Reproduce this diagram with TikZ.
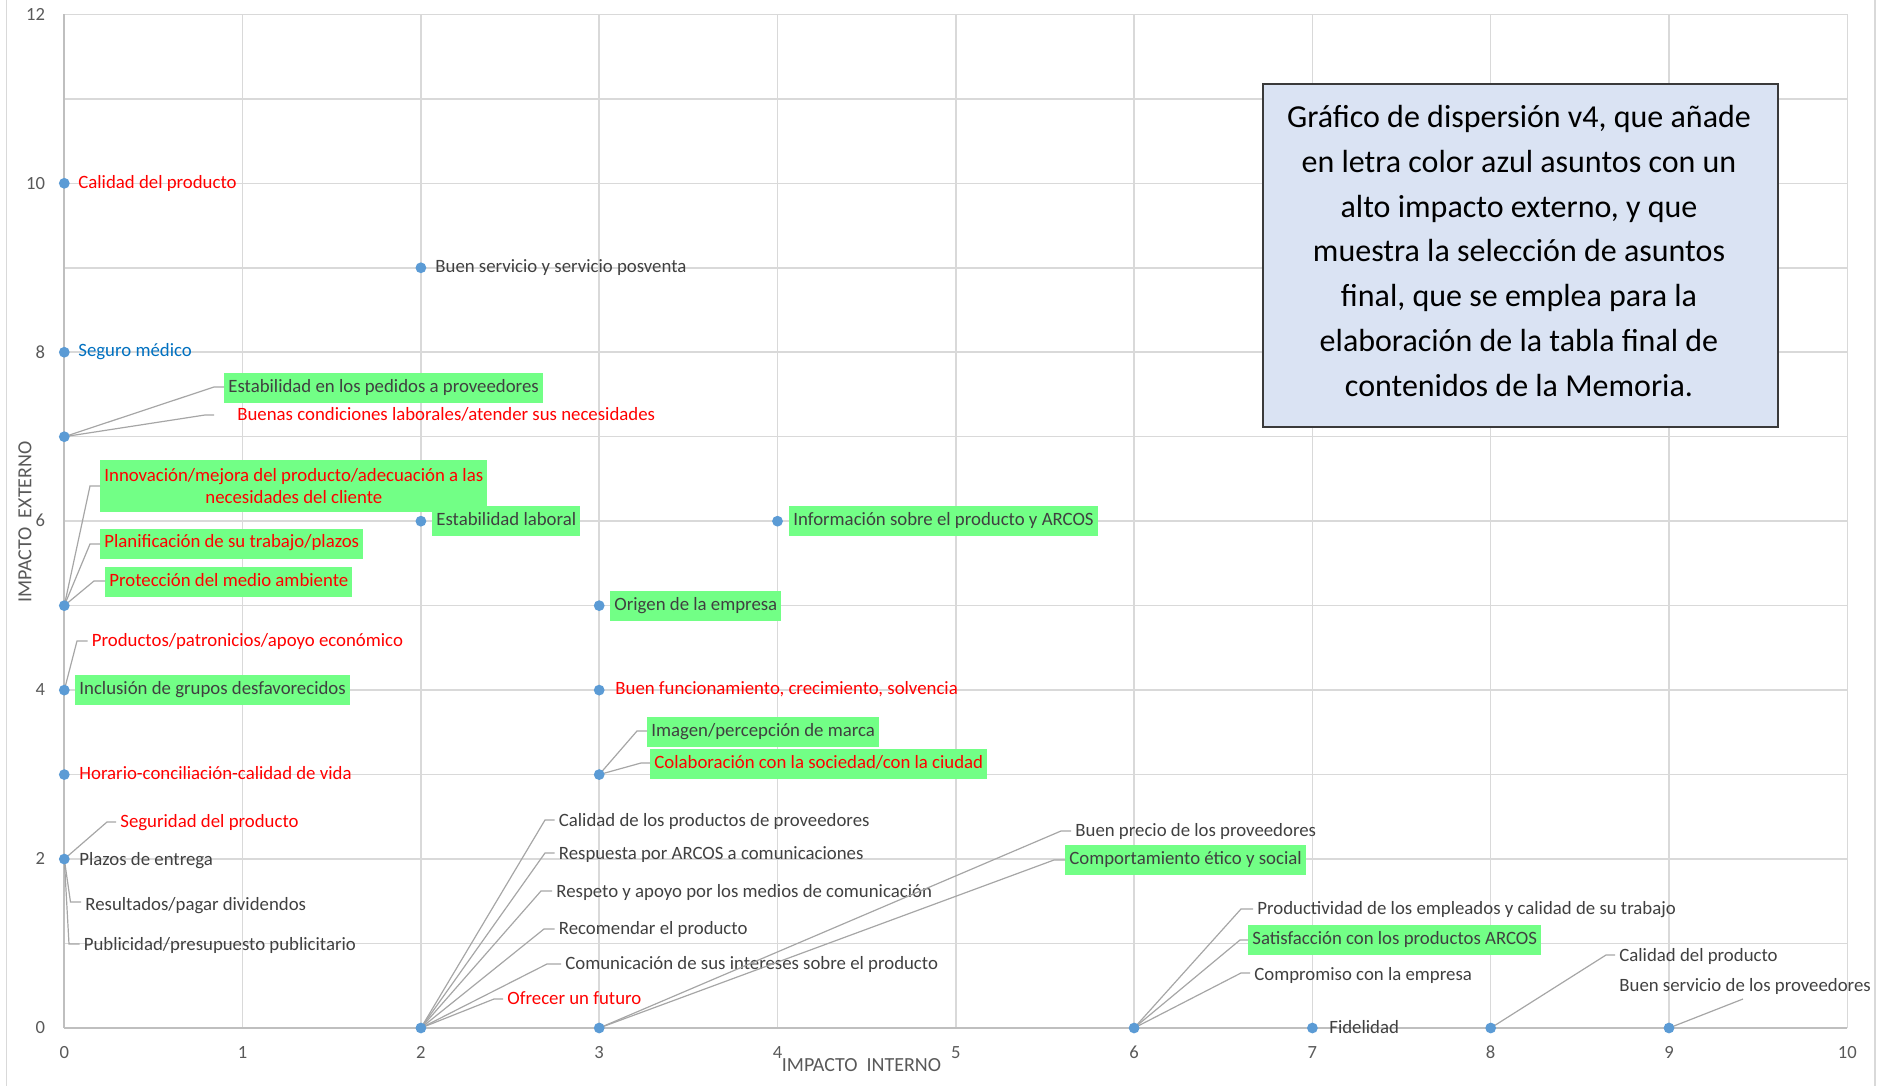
\documentclass[tikz,border=0pt]{standalone}
\usepackage{fontspec}
\setmainfont{Carlito}
\definecolor{gridc}{HTML}{D9D9D9}
\definecolor{axisc}{HTML}{BFBFBF}
\definecolor{leaderc}{HTML}{A6A6A6}
\definecolor{dotc}{HTML}{5B9BD5}
\definecolor{greenc}{RGB}{114,255,134}
\definecolor{darkc}{HTML}{404040}
\definecolor{tickc}{HTML}{595959}
\definecolor{bluec}{HTML}{0070C0}
\definecolor{redc}{HTML}{FF0000}
\definecolor{notec}{HTML}{DAE3F3}
\definecolor{notedraw}{HTML}{3A3A3A}
\begin{document}
\begin{tikzpicture}[x=0.5pt,y=-0.5pt,
  gridl/.style={draw=gridc,line width=0.75pt},
  axisl/.style={draw=axisc,line width=1pt},
  leader/.style={draw=leaderc,line width=0.6pt},
  dot/.style={circle,fill=dotc,inner sep=0pt,minimum size=5.4pt},
  lbl/.style={anchor=west,font=\fontsize{9.4}{11}\selectfont,text=darkc,inner xsep=2pt,inner ysep=0pt,text height=6.4pt,text depth=2pt},
  gbox/.style={lbl,fill=greenc,minimum height=15pt},
  rtext/.style={text=redc},
  tick/.style={font=\fontsize{9.3}{10}\selectfont,text=tickc,inner sep=0pt,text height=5.8pt,text depth=0pt},
  axtitle/.style={font=\fontsize{10}{12}\selectfont,text=tickc,inner sep=0pt}]
\useasboundingbox (0,0) rectangle (1881,1086);
% chart frame sides
\draw[gridl] (6.7,0) -- (6.7,1086);
\draw[gridl] (1875,0) -- (1875,1086);
\begin{scope}[shift={(64.3,1028)},x=89.15pt,y=42.235pt]
  \foreach \i in {1,...,10} \draw[gridl] (\i,0) -- (\i,12);
  \foreach \j in {1,...,12} \draw[gridl] (0,\j) -- (10,\j);
  \draw[axisl] (0,0) -- (0,12);
  \draw[axisl] (0,0) -- (10,0);
  \foreach \j in {0,2,...,12} \node[tick,anchor=east,xshift=-9.4pt] (ty\j) at (0,\j) {\j};
  \foreach \i in {0,...,10} \node[tick,anchor=center,yshift=-12.35pt] (tx\i) at (\i,0) {\i};
  \foreach \a/\b in {0/10,2/9,0/8,0/7,0/5,2/6,4/6,3/5,0/4,3/4,3/3,0/3,0/2,2/0,3/0,6/0,7/0,8/0,9/0}
    \coordinate (q\a\b) at (\a,\b);
\end{scope}
% axis titles
\node[axtitle,rotate=90] (ytitle) at (25,522) {IMPACTO\ \ EXTERNO};
\node[axtitle] (xtitle) at (861.5,1065) {IMPACTO\ \ INTERNO};
% note box
\node[draw=notedraw,line width=0.8pt,fill=notec,minimum width=257.5pt,minimum height=171.5pt,inner sep=0pt] (note) at (1520.5,255.5) {};
\node[align=center,font=\fontsize{16}{22.4}\selectfont,text=black,inner sep=0pt] (notetext) at (1519,251) {Gráfico de dispersión v4, que añade\\en letra color azul asuntos con un\\alto impacto externo, y que\\muestra la selección de asuntos\\final, que se emplea para la\\elaboración de la tabla final de\\contenidos de la Memoria.};
% labels
\node[lbl,rtext] (l1) at (74,184) {Calidad del producto};
\node[lbl] (l2) at (431,268) {Buen servicio y servicio posventa};
\node[lbl,text=bluec] (l3) at (74,352) {Seguro médico};
\node[gbox] (l4) at (224,388) {Estabilidad en los pedidos a proveedores};
\node[lbl,rtext,inner xsep=11.5pt] (l5) at (214,416) {Buenas condiciones laborales/atender sus necesidades};
\node[lbl,rtext,fill=greenc,anchor=north west,align=center,minimum width=193pt,minimum height=26pt,text height=,text depth=,font=\fontsize{9.4}{11}\selectfont] (l6) at (100,460) {Innovación/mejora del producto/adecuación a las\\necesidades del cliente};
\node[gbox,rtext] (l7) at (100,543.5) {Planificación de su trabajo/plazos};
\node[gbox,rtext] (l8) at (105,582) {Protección del medio ambiente};
\node[gbox] (l9) at (432,521) {Estabilidad laboral};
\node[gbox] (l10) at (789,521) {Información sobre el producto y ARCOS};
\node[gbox] (l11) at (610,606) {Origen de la empresa};
\node[lbl,rtext] (l12) at (87.5,642) {Productos/patronicios/apoyo económico};
\node[gbox] (l13) at (75,690) {Inclusión de grupos desfavorecidos};
\node[lbl,rtext] (l14) at (611,690) {Buen funcionamiento, crecimiento, solvencia};
\node[gbox] (l15) at (647,732) {Imagen/percepción de marca};
\node[gbox,rtext] (l16) at (650,764) {Colaboración con la sociedad/con la ciudad};
\node[lbl,rtext] (l17) at (75,775) {Horario-conciliación-calidad de vida};
\node[lbl,rtext] (l18) at (116,823) {Seguridad del producto};
\node[lbl] (l19) at (75,861) {Plazos de entrega};
\node[lbl] (l20) at (81,906) {Resultados/pagar dividendos};
\node[lbl] (l21) at (79.5,946) {Publicidad/presupuesto publicitario};
\node[lbl] (l22) at (554.5,822) {Calidad de los productos de proveedores};
\node[lbl] (l23) at (554.5,855) {Respuesta por ARCOS a comunicaciones};
\node[lbl] (l24) at (552,893) {Respeto y apoyo por los medios de comunicación};
\node[lbl] (l25) at (554.5,930) {Recomendar el producto};
\node[lbl] (l26) at (561,965) {Comunicación de sus intereses sobre el producto};
\node[lbl,rtext] (l27) at (503,1000) {Ofrecer un futuro};
\node[lbl] (l28) at (1071,832) {Buen precio de los proveedores};
\node[gbox] (l29) at (1065,860) {Comportamiento ético y social};
\node[lbl] (l30) at (1253,910) {Productividad de los empleados y calidad de su trabajo};
\node[gbox] (l31) at (1248,940) {Satisfacción con los productos ARCOS};
\node[lbl] (l32) at (1250,976) {Compromiso con la empresa};
\node[lbl] (l33) at (1325,1029) {Fidelidad};
\node[lbl] (l34) at (1615,957) {Calidad del producto};
\node[lbl] (l35) at (1615,987) {Buen servicio de los proveedores};
% leader bends
\coordinate (b4) at (214,387);
\coordinate (b5) at (205,415);
\coordinate (b6) at (90,486);
\coordinate (b7) at (90,544);
\coordinate (b8) at (94,581);
\coordinate (b12) at (77,641);
\coordinate (b15) at (637,731);
\coordinate (b16) at (641,763);
\coordinate (b18) at (107,822);
\coordinate (b20) at (70.5,902);
\coordinate (b21) at (69,944);
\coordinate (b22) at (545,820);
\coordinate (b23) at (545,853);
\coordinate (b24) at (541,891);
\coordinate (b25) at (544,929);
\coordinate (b26) at (547,964);
\coordinate (b27) at (494,999);
\coordinate (b28) at (1061,831);
\coordinate (b29) at (1054,860);
\coordinate (b30) at (1241,909);
\coordinate (b31) at (1240,940);
\coordinate (b32) at (1241,973);
\coordinate (b34) at (1606,955);
\coordinate (e35) at (1743,999);
% leaders
\draw[leader] (q07) -- (b4) -- (l4.west |- b4);
\draw[leader] (q07) -- (b5) -- (l5.west |- b5);
\draw[leader] (q05) -- (b6) -- (l6.west |- b6);
\draw[leader] (q05) -- (b7) -- (l7.west |- b7);
\draw[leader] (q05) -- (b8) -- (l8.west |- b8);
\draw[leader] (q04) -- (b12) -- (l12.west |- b12);
\draw[leader] (q33) -- (b15) -- (l15.west |- b15);
\draw[leader] (q33) -- (b16) -- (l16.west |- b16);
\draw[leader] (q02) -- (b18) -- (l18.west |- b18);
\draw[leader] (q02) -- (b20) -- (l20.west |- b20);
\draw[leader] (q02) -- (b21) -- (l21.west |- b21);
\draw[leader] (q20) -- (b22) -- (l22.west |- b22);
\draw[leader] (q20) -- (b23) -- (l23.west |- b23);
\draw[leader] (q20) -- (b24) -- (l24.west |- b24);
\draw[leader] (q20) -- (b25) -- (l25.west |- b25);
\draw[leader] (q20) -- (b26) -- (l26.west |- b26);
\draw[leader] (q20) -- (b27) -- (l27.west |- b27);
\draw[leader] (q30) -- (b28) -- (l28.west |- b28);
\draw[leader] (q30) -- (b29) -- (l29.west |- b29);
\draw[leader] (q60) -- (b30) -- (l30.west |- b30);
\draw[leader] (q60) -- (b31) -- (l31.west |- b31);
\draw[leader] (q60) -- (b32) -- (l32.west |- b32);
\draw[leader] (q80) -- (b34) -- (l34.west |- b34);
\draw[leader] (q90) -- (e35);
% points
\foreach \n in {010,29,08,07,05,26,46,35,04,34,33,03,02,20,30,60,70,80,90}
  \node[dot] (p\n) at (q\n) {};
\end{tikzpicture}
\end{document}
